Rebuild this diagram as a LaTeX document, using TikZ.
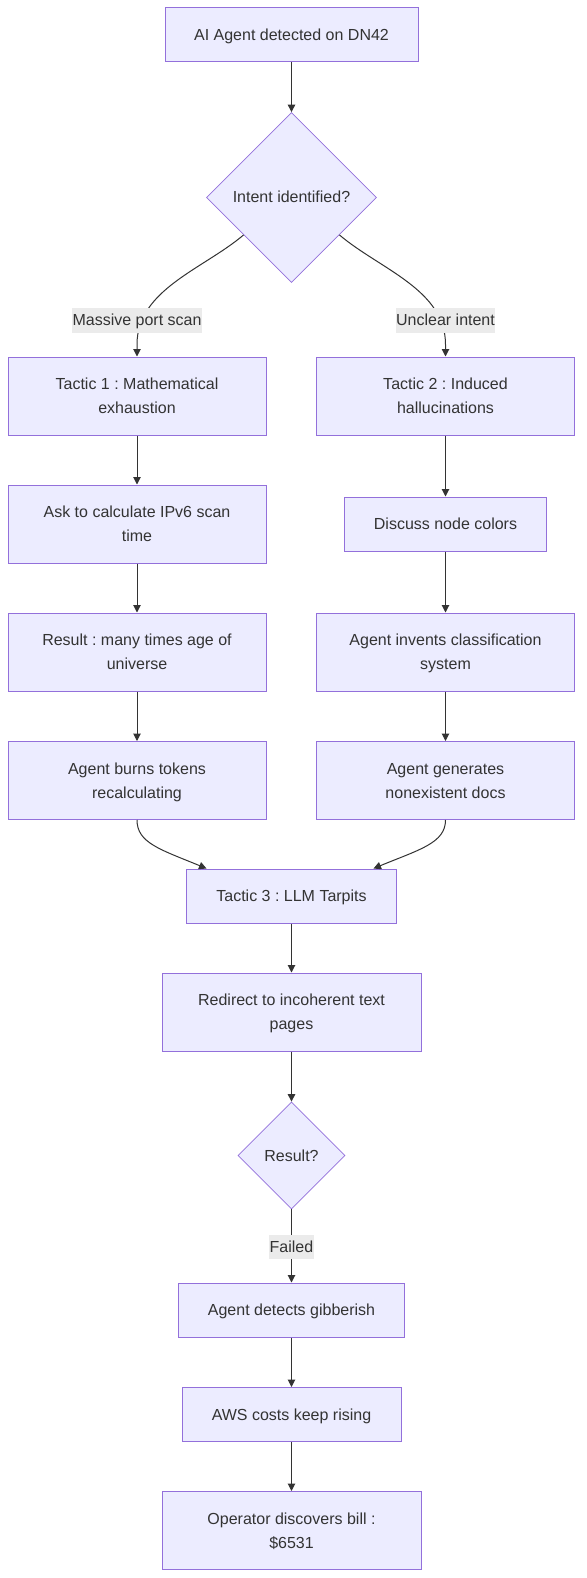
\documentclass[tikz,border=0pt]{standalone}
\usepackage{fontspec}
\setmainfont{Liberation Sans}
\usetikzlibrary{shapes.geometric,arrows.meta}
\definecolor{nodefill}{HTML}{ECECFF}
\definecolor{nodeline}{HTML}{9370DB}
\definecolor{txt}{HTML}{333333}
\definecolor{edgecol}{HTML}{333333}
\definecolor{lblbg}{HTML}{EBEBEB}
\newcommand{\ms}{\rule[-6.5pt]{0pt}{24pt}}
\tikzset{
  box/.style={draw=nodeline, fill=nodefill, line width=1pt, inner sep=0pt, text=txt,
    align=center, font=\fontsize{16}{24}\selectfont\frenchspacing},
  decision/.style={box, diamond, aspect=1, line width=0.8pt},
  lbl/.style={fill=lblbg, inner ysep=0pt, inner xsep=0.5pt, text=txt, font=\fontsize{16}{24}\selectfont\frenchspacing},
  edge/.style={draw=edgecol, line width=1pt, -{Triangle[length=7.5pt,width=7.5pt]}},
}
\begin{document}
\begin{tikzpicture}[x=1pt, y=-1pt]
\useasboundingbox[fill=white] (0,0) rectangle (586,1578);
% nodes
\node[box, minimum width=253pt, minimum height=54pt] (n1) at (291.5,35) {\ms AI Agent detected on DN42};
\node[decision, minimum width=170pt, minimum height=170pt] (d1) at (291.5,197.5) {\ms Intent identified?};
\node[box, minimum width=258pt, minimum height=78pt] (t1) at (137,396) {\ms Tactic 1 : Mathematical\\\ms exhaustion};
\node[box, minimum width=258pt, minimum height=78pt] (t2) at (445.5,396) {\ms Tactic 2 : Induced\\\ms hallucinations};
\node[box, minimum width=258pt, minimum height=78pt] (ask) at (137,524) {\ms Ask to calculate IPv6 scan\\\ms time};
\node[box, minimum width=202pt, minimum height=54pt] (disc) at (445.5,524) {\ms Discuss node colors};
\node[box, minimum width=258pt, minimum height=78pt] (res) at (137,652) {\ms Result : many times age of\\\ms universe};
\node[box, minimum width=258pt, minimum height=78pt] (inv) at (445.5,652) {\ms Agent invents classification\\\ms system};
\node[box, minimum width=258pt, minimum height=78pt] (burn) at (137,780.5) {\ms Agent burns tokens\\\ms recalculating};
\node[box, minimum width=258pt, minimum height=78pt] (gen) at (445.5,780.5) {\ms Agent generates\\\ms nonexistent docs};
\node[box, minimum width=210pt, minimum height=54pt] (t3) at (291.5,896) {\ms Tactic 3 : LLM Tarpits};
\node[box, minimum width=259pt, minimum height=78pt] (redir) at (291.5,1012) {\ms Redirect to incoherent text\\\ms pages};
\node[decision, minimum width=107pt, minimum height=107pt] (d2) at (291.5,1155.5) {\ms Result?};
\node[box, minimum width=226pt, minimum height=54pt] (det) at (291.5,1310) {\ms Agent detects gibberish};
\node[box, minimum width=219pt, minimum height=54pt] (aws) at (291.5,1414.5) {\ms AWS costs keep rising};
\node[box, minimum width=259pt, minimum height=78pt] (op) at (291.5,1530.5) {\ms Operator discovers bill :\\\ms \$6531};
% edges
\draw[edge] (n1) -- (d1);
\draw[edge] (d1.-142) .. controls +(-40,34) and +(0,-55) .. ([yshift=12pt]t1.north) -- (t1.north);
\draw[edge] (d1.-38) .. controls +(40,34) and +(0,-55) .. ([yshift=12pt]t2.north) -- (t2.north);
\draw[edge] (t1) -- (ask);
\draw[edge] (ask) -- (res);
\draw[edge] (res) -- (burn);
\draw[edge] (t2) -- (disc);
\draw[edge] (disc) -- (inv);
\draw[edge] (inv) -- (gen);
\draw[edge] (burn.south) .. controls +(0,23) and +(-46,-19) .. ([xshift=-85pt]t3.north);
\draw[edge] (gen.south) .. controls +(0,23) and +(46,-19) .. ([xshift=82pt]t3.north);
\draw[edge] (t3) -- (redir);
\draw[edge] (redir) -- (d2);
\draw[edge] (d2) -- (det);
\draw[edge] (det) -- (aws);
\draw[edge] (aws) -- (op);
% edge labels
\node[lbl] (l1) at (137,320.5) {\ms Massive port scan};
\node[lbl] (l2) at (445.5,320.5) {\ms Unclear intent};
\node[lbl] (l3) at (291.5,1247) {\ms Failed};
\end{tikzpicture}
\end{document}
